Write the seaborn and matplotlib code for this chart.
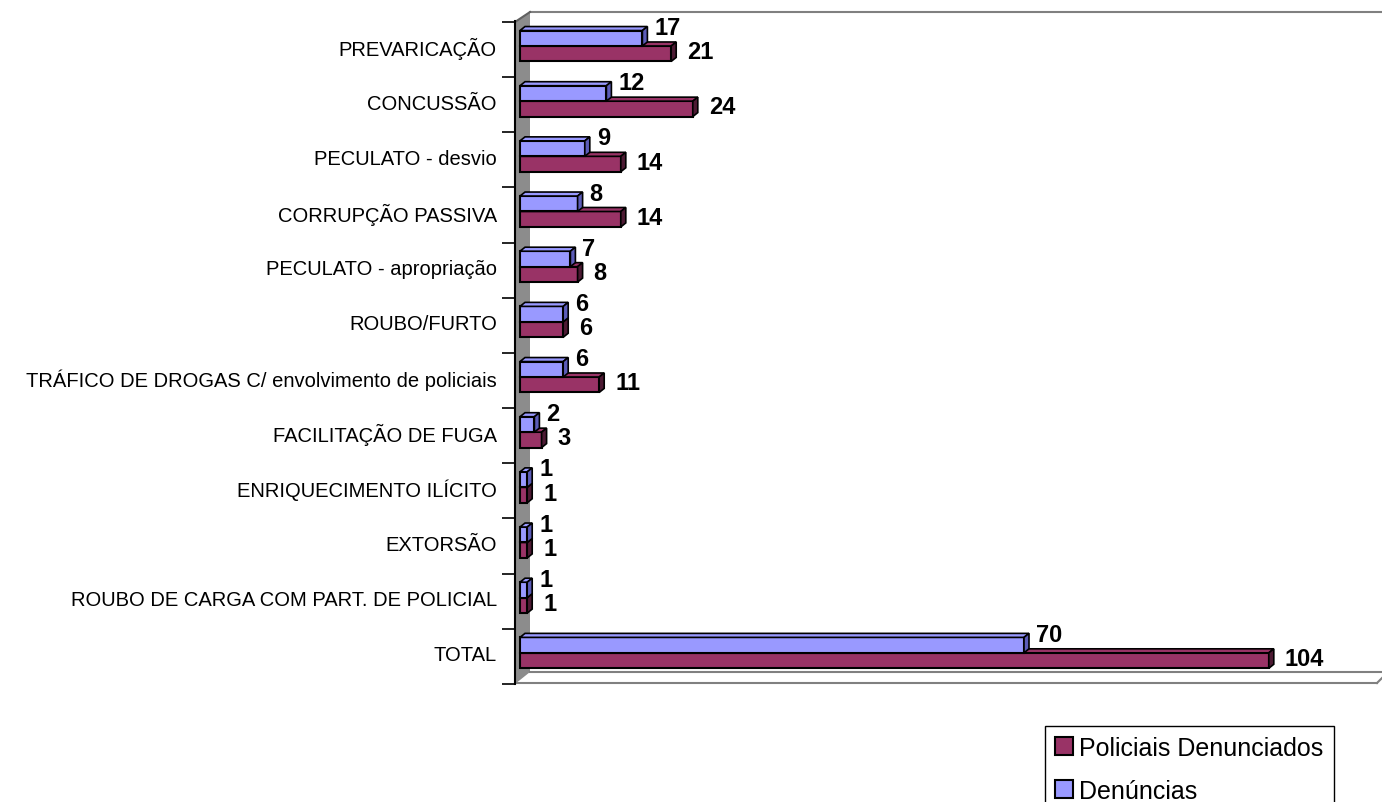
import pandas as pd
import matplotlib.pyplot as plt
import seaborn as sns
from matplotlib.patches import Polygon, Patch
from matplotlib.lines import Line2D

# dados
categorias = ['PREVARICAÇÃO', 'CONCUSSÃO', 'PECULATO - desvio', 'CORRUPÇÃO PASSIVA',
              'PECULATO - apropriação', 'ROUBO/FURTO',
              'TRÁFICO DE DROGAS C/ envolvimento de policiais', 'FACILITAÇÃO DE FUGA',
              'ENRIQUECIMENTO ILÍCITO', 'EXTORSÃO', 'ROUBO DE CARGA COM PART. DE POLICIAL',
              'TOTAL']
denuncias = [17, 12, 9, 8, 7, 6, 6, 2, 1, 1, 1, 70]
policiais = [21, 24, 14, 14, 8, 6, 11, 3, 1, 1, 1, 104]
series = ['Denúncias', 'Policiais Denunciados']
cores = {'Denúncias': '#9999FF', 'Policiais Denunciados': '#993366'}
cores_lado = {'Denúncias': '#5C5CB8', 'Policiais Denunciados': '#4D1A33'}

df = pd.DataFrame({
    'categoria': categorias * 2,
    'valor': denuncias + policiais,
    'serie': [series[0]] * len(categorias) + [series[1]] * len(categorias),
})

W, H = 1382, 803
fig = plt.figure(figsize=(W / 100, H / 100), dpi=100)
plt.rcParams['font.family'] = ['Liberation Sans', 'DejaVu Sans']


def P(x, y):
    return (x / W, 1 - y / H)


# escala em pixels
px_x = 7.2      # pixels por unidade
px_cat = 55.2   # pixels por categoria
ax = fig.add_axes([515 / W, 1 - 685 / H, (1382 - 515) / W, (685 - 13) / H])
ax.set_facecolor('none')

sns.barplot(data=df, y='categoria', x='valor', hue='serie', hue_order=series,
            palette=cores, orient='h', width=0.56, saturation=1,
            edgecolor='black', linewidth=1.5, legend=False, ax=ax)

ax.set_xlim(-5 / px_x, (1382 - 520) / px_x)
ax.set_ylim(638 / px_cat, -34 / px_cat)

# parede lateral e chão (falso 3D)
fig.add_artist(Polygon([P(515, 23), P(530, 13), P(530, 673), P(515, 685)],
                       closed=True, facecolor='#8C8C8C', edgecolor='none',
                       transform=fig.transFigure, zorder=0))
for (x0, y0), (x1, y1), c in [((530, 13), (1382, 13), '#808080'),
                               ((515, 23), (530, 13), '#606060'),
                               ((530, 673), (1382, 673), '#808080'),
                               ((515, 684), (1377, 684), '#808080'),
                               ((1377, 684), (1382, 679), '#808080')]:
    fig.add_artist(Line2D([P(x0, y0)[0], P(x1, y1)[0]], [P(x0, y0)[1], P(x1, y1)[1]],
                          color=c, lw=1.5, transform=fig.transFigure, zorder=0.5))
fig.add_artist(Line2D([P(515, 0)[0]] * 2, [P(515, 22)[1], P(515, 685)[1]],
                      color='black', lw=1.5, transform=fig.transFigure, zorder=0.6))

# barras 3D: faces de topo e lado
dx = 5 / px_x
dy = -4 / px_cat
for i, serie in enumerate(series):
    z = 5 if serie == 'Denúncias' else 2
    for bar in ax.containers[i]:
        x0, y0 = bar.get_x(), bar.get_y()
        x1, y1 = x0 + bar.get_width(), y0 + bar.get_height()
        bar.set_zorder(z + 0.5)
        topo = Polygon([(x0, y0), (x1, y0), (x1 + dx, y0 + dy), (x0 + dx, y0 + dy)],
                       closed=True, facecolor=cores[serie], edgecolor='black', lw=1.2,
                       zorder=z + 0.6)
        lado = Polygon([(x1, y0), (x1 + dx, y0 + dy), (x1 + dx, y1 + dy), (x1, y1)],
                       closed=True, facecolor=cores_lado[serie], edgecolor='black', lw=1.2,
                       zorder=z + 0.6)
        ax.add_patch(topo)
        ax.add_patch(lado)
        if serie == 'Denúncias':
            ax.annotate(f'{bar.get_width():.0f}', (x1, y0), xytext=(12 * 0.72, 3 * 0.72),
                        textcoords='offset points', ha='left', va='center',
                        fontsize=17, fontweight='bold', zorder=10)
        else:
            ax.annotate(f'{bar.get_width():.0f}', (x1, (y0 + y1) / 2),
                        xytext=(16 * 0.72, 2 * 0.72), textcoords='offset points',
                        ha='left', va='center', fontsize=17, fontweight='bold', zorder=10)

# eixos
for s in ax.spines.values():
    s.set_visible(False)
ax.set_xticks([])
ax.set_xlabel('')
ax.set_ylabel('')
ax.set_yticks(range(len(categorias)))
ax.set_yticklabels(categorias, fontsize=14.5)
ax.set_yticks([k - 24 / px_cat for k in range(len(categorias) + 1)], minor=True)
ax.tick_params(axis='y', which='major', length=0, pad=13)
ax.tick_params(axis='y', which='minor', length=9.4, width=1.2, color='black')

# legenda
handles = [Patch(facecolor=cores['Policiais Denunciados'], edgecolor='black', lw=1.5),
           Patch(facecolor=cores['Denúncias'], edgecolor='black', lw=1.5)]
leg = fig.legend(handles, ['Policiais Denunciados', 'Denúncias'], loc='upper left',
                 bbox_to_anchor=P(1045, 727), fontsize=18, frameon=True, fancybox=False,
                 edgecolor='black', framealpha=1, handlelength=0.72, handleheight=0.72,
                 handletextpad=0.25, labelspacing=0.75, borderpad=0.4, borderaxespad=0)
leg.get_frame().set_linewidth(1)

fig.savefig('out.png', dpi=100)
